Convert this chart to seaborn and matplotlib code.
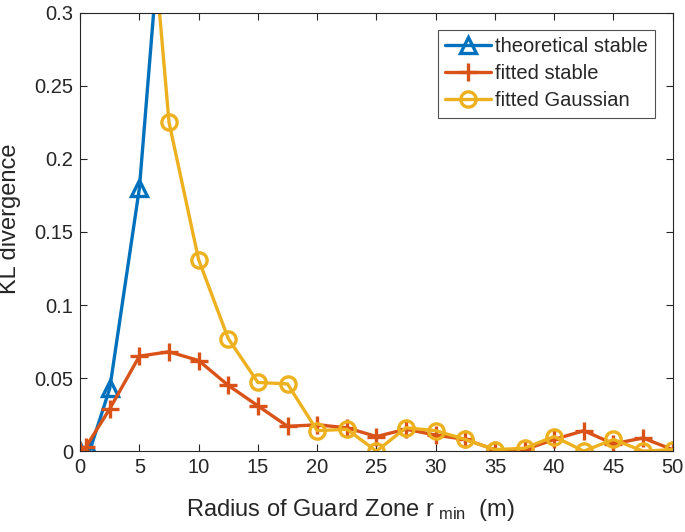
import pandas as pd
import seaborn as sns
import matplotlib.pyplot as plt

# values
x_theory = [0, 0.8, 2.5, 5, 7.5]
kl_theory = [0.0, 0.0, 0.043, 0.18, 0.43]

x_fit = [0, 0.5, 2.5, 5, 7.5, 10, 12.5, 15, 17.5, 20, 22.5, 25, 27.5, 30,
         32.5, 35, 37.5, 40, 42.5, 45, 47.5, 50]
kl_stable = [0.0, 0.003, 0.029, 0.065, 0.068, 0.062, 0.045, 0.031, 0.017, 0.018,
             0.016, 0.010, 0.015, 0.011, 0.008, 0.001, 0.001, 0.008, 0.014,
             0.005, 0.009, 0.001]

x_gauss = [5, 7.5, 10, 12.5, 15, 17.5, 20, 22.5, 25, 27.5, 30, 32.5, 35,
           37.5, 40, 42.5, 45, 47.5, 50]
kl_gauss = [0.46, 0.225, 0.131, 0.077, 0.047, 0.046, 0.014, 0.015, 0.0, 0.016,
            0.014, 0.008, 0.001, 0.002, 0.010, 0.0, 0.008, 0.0, 0.001]

series = [
    ("theoretical stable", x_theory, kl_theory, "#0072BD", "^", 11),
    ("fitted stable", x_fit, kl_stable, "#D95319", "+", 13),
    ("fitted Gaussian", x_gauss, kl_gauss, "#EDB120", "o", 11),
]

sns.set_style("ticks")
plt.rcParams['font.family'] = ['Liberation Sans', 'DejaVu Sans']
plt.rcParams['mathtext.default'] = 'regular'

fig = plt.figure(figsize=(6.85, 5.32), dpi=100)
ax = fig.add_axes([0.117, 0.152, 0.865, 0.824])

for name, xs, ys, col, mk, ms in series:
    df = pd.DataFrame({"r": xs, "kl": ys})
    sns.lineplot(data=df, x="r", y="kl", ax=ax, color=col, marker=mk,
                 markersize=ms, markeredgewidth=2.4, markerfacecolor="none",
                 markeredgecolor=col, linewidth=2.4, label=name)

ax.set_xlim(0, 50)
ax.set_ylim(0, 0.3)
ax.set_xticks(range(0, 51, 5))
ax.set_yticks([0, 0.05, 0.1, 0.15, 0.2, 0.25, 0.3])
ax.set_yticklabels(["0", "0.05", "0.1", "0.15", "0.2", "0.25", "0.3"])
ax.tick_params(direction="in", top=True, right=True, labelsize=14.5, length=5,
               width=0.8, color="#262626", labelcolor="#262626", pad=5)
for s in ax.spines.values():
    s.set_linewidth(0.8)
    s.set_color("#262626")

ax.set_xlabel("Radius of Guard Zone r$_{\\ min}$  (m)", fontsize=17,
              color="#262626")
ax.xaxis.set_label_coords(0.456, -0.105)
ax.set_ylabel("KL divergence", fontsize=17, color="#262626")
ax.yaxis.set_label_coords(-0.099, 0.53)

leg = ax.legend(loc="upper right", bbox_to_anchor=(0.97, 0.96), fontsize=14.5,
                frameon=True, fancybox=False, edgecolor="#262626",
                handlelength=2.3, handletextpad=0.2, borderpad=0.35,
                labelspacing=0.4, borderaxespad=0)
leg.get_frame().set_linewidth(0.8)

fig.savefig("out.png", dpi=100)
